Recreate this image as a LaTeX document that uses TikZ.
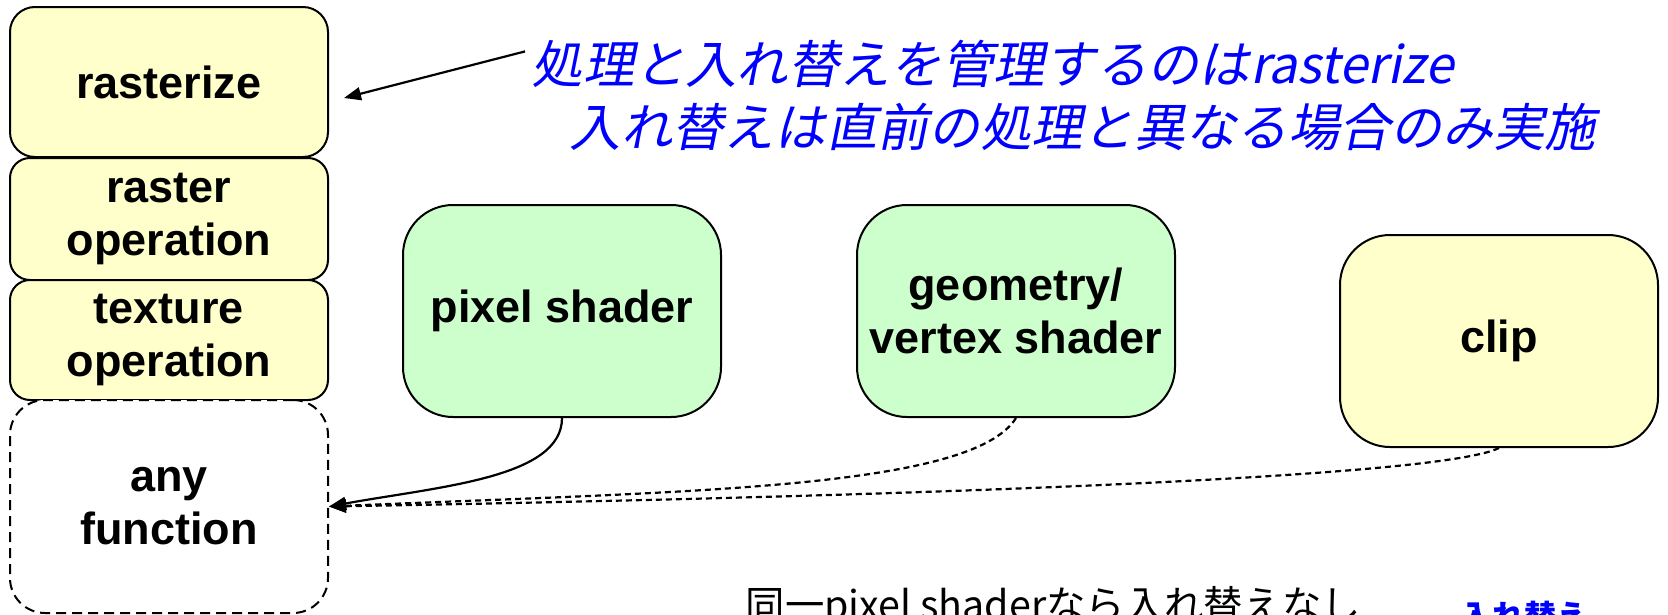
\documentclass[tikz,border=0pt]{standalone}
\usepackage{fontspec}
\setmainfont{Liberation Sans}
\newfontfamily\jpfont{Noto Sans CJK JP}
\newfontfamily\jpslant[FakeSlant=0.2]{Noto Sans CJK JP}
\usetikzlibrary{arrows.meta}

\definecolor{stageyellow}{HTML}{FFFFCC}
\definecolor{stagegreen}{HTML}{CCFFCC}

\begin{document}
\begin{tikzpicture}[
        >={Triangle[length=0.17cm, width=0.13cm]},
        every node/.style={align=center},
        stage/.style={draw, line width=0.02cm, fill=stageyellow, inner sep=0pt,
                      minimum width=3.18cm,
                      font=\bfseries\fontsize{12.8pt}{15.1pt}\selectfont},
        shader/.style={stage, fill=stagegreen, minimum height=2.12cm,
                       rounded corners=0.5cm},
        slot/.style={stage, fill=white, dash pattern=on 0.1cm off 0.06cm,
                     minimum height=2.13cm, rounded corners=0.35cm},
        link/.style={->, line width=0.022cm},
        linkdash/.style={dash pattern=on 0.06cm off 0.04cm},
        note/.style={anchor=base west, inner sep=0pt, text=blue,
                     font=\jpslant\fontsize{14.6pt}{17pt}\selectfont},
    ]
    \useasboundingbox (0,0) rectangle (16.68,-6.15);

    % --- Left column: fixed stages above the free slot --------------------
    \node[stage, minimum height=1.50cm, rounded corners=0.25cm]
        (raster) at (1.69,-0.82) {rasterize};
    \node[stage, minimum height=1.22cm, rounded corners=0.2cm]
        (rop) at (1.69,-2.19) {raster\\operation};
    \node[stage, minimum height=1.20cm, rounded corners=0.2cm]
        (tex) at (1.69,-3.40) {texture\\operation};
    \node[slot] (anyf) at (1.69,-5.065) {any\\function};

    % --- Functions that can be swapped in ---------------------------------
    \node[shader] (pix) at (5.62,-3.11) {pixel shader};
    \node[shader] (geo) at (10.16,-3.11) {geometry/\\vertex shader};
    \node[shader, fill=stageyellow] (clipst) at (14.99,-3.41) {clip};

    % --- Connectors into the free slot ------------------------------------
    \draw[link] (pix.south)
        .. controls +(0,-0.6) and +(1.1,0.2) .. (anyf.east);
    \draw[link, linkdash] (geo.south)
        .. controls +(-0.45,-0.72) and +(3.5,0.15) .. (anyf.east);
    \draw[link, linkdash] (clipst.south)
        .. controls +(-0.6,-0.3) and +(5.72,0.1) .. (anyf.east);

    % --- Notes ------------------------------------------------------------
    \node[note] (note1) at (5.31,-0.83) {処理と入れ替えを管理するのはrasterize};
    \node[note] (note2) at (5.69,-1.46) {入れ替えは直前の処理と異なる場合のみ実施};
    \coordinate (rastip) at ([xshift=0.15cm, yshift=-0.16cm]raster.east);
    \draw[link] ([shift={(-0.06cm,0.12cm)}]note1.west) -- (rastip);

    \node[anchor=base west, inner sep=0pt,
          font=\jpfont\fontsize{11.2pt}{13pt}\selectfont]
        (same) at (7.45,-6.19) {同一pixel shaderなら入れ替えなし};
    \node[anchor=base west, inner sep=0pt, text=blue,
          font=\jpfont\bfseries\fontsize{9.1pt}{11pt}\selectfont]
        (swap) at (14.60,-6.28) {入れ替え};
\end{tikzpicture}
\end{document}
